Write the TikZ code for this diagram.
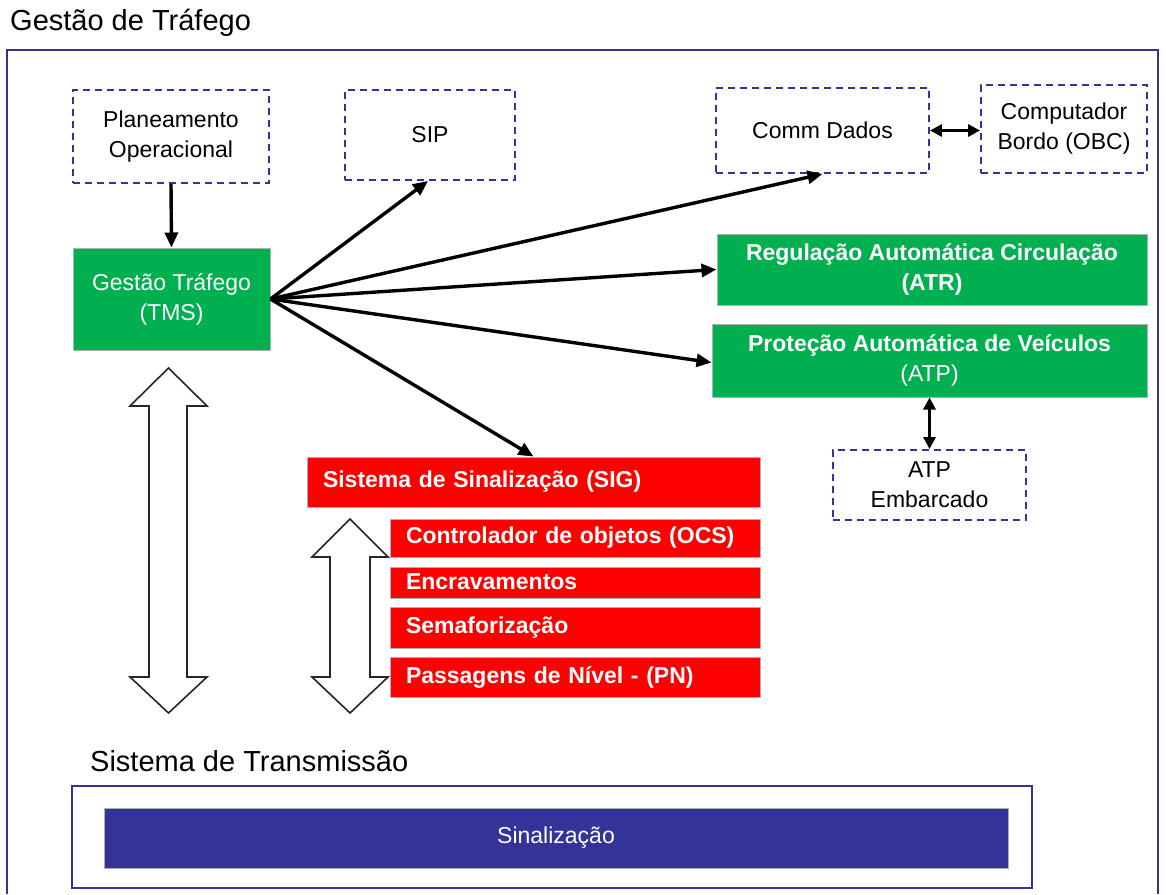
\documentclass[tikz,border=0pt]{standalone}
\usepackage{fontspec}
\setmainfont{Liberation Sans}
\usetikzlibrary{arrows.meta}
\definecolor{navy}{HTML}{333399}
\definecolor{boxgreen}{HTML}{00B050}
\definecolor{boxred}{HTML}{FF0000}
\definecolor{edgegray}{HTML}{A8B4B4}
\tikzset{
  every node/.style={font=\fontsize{23}{30}\selectfont, inner sep=0pt},
  dashbox/.style={draw=navy, line width=1.9pt, dash pattern=on 7pt off 5pt, fill=white, align=center},
  greenbox/.style={fill=boxgreen, draw=edgegray, line width=1pt, text=white, align=center},
  redbox/.style={fill=boxred, draw=edgegray, line width=1pt, text=white,
    font=\fontsize{23}{30}\selectfont\bfseries, align=left, inner xsep=16pt},
  bluebox/.style={fill=navy, draw=edgegray, line width=1pt, text=white, align=center},
  link/.style={line width=3.4pt, -{Triangle[length=15pt,width=13pt]}},
  duallink/.style={line width=3.4pt, {Triangle[length=12pt,width=12pt]}-{Triangle[length=12pt,width=12pt]}},
  blockarrow/.style={draw=black!85, line width=1.6pt, fill=white, line join=miter},
  heading/.style={font=\fontsize{29}{34}\selectfont, anchor=base west},
  frame/.style={draw=navy, line width=2pt},
}
\begin{document}
\begin{tikzpicture}[x=1pt, y=-1pt]
\useasboundingbox (0,0) rectangle (1166,894);

% outer frame and its title
\node[heading] (title) at (10,30) {Gestão de Tráfego};
\draw[frame] (7,894) -- (7,50) -- (1158,50) -- (1158,894);

% external (dashed) systems
\node[dashbox, minimum width=196pt, minimum height=93pt] (plan) at (171,136.5) {Planeamento\\Operacional};
\node[dashbox, minimum width=170pt, minimum height=90pt] (sip) at (430,135) {SIP};
\node[dashbox, minimum width=213pt, minimum height=85pt] (comm) at (822.5,130.5) {Comm Dados};
\node[dashbox, minimum width=166pt, minimum height=88pt] (obc) at (1064,129) {Computador\\Bordo (OBC)};
\node[dashbox, minimum width=193pt, minimum height=70pt] (emb) at (929.5,485) {ATP\\Embarcado};

% green subsystems
\node[greenbox, minimum width=197pt, minimum height=102pt] (tms) at (171.5,299) {Gestão Tráfego\\(TMS)};
\node[greenbox, minimum width=430pt, minimum height=71pt] (atr) at (932,269.5)
  {\textbf{Regulação Automática Circulação}\\\textbf{(ATR)}};
\node[greenbox, minimum width=435pt, minimum height=73pt] (atp) at (929.5,360.5)
  {\textbf{Proteção Automática de Veículos}\\(ATP)};

% signalling system
\node[redbox, text width=421pt, minimum height=50pt] (sig) at (533.5,482) {Sistema de Sinalização (SIG)};
\node[redbox, text width=338pt, minimum height=38pt] (ocs) at (575,538) {Controlador de objetos (OCS)};
\node[redbox, text width=338pt, minimum height=31pt] (enc) at (575,582.5) {\raisebox{2pt}{Encravamentos}};
\node[redbox, text width=338pt, minimum height=41pt] (sem) at (575,627.5) {Semaforização};
\node[redbox, text width=338pt, minimum height=40pt] (pn) at (575,677) {Passagens de Nível - (PN)};

% connectors
\draw[link] (plan.south) -- (tms.north);
\draw[link] (tms.east) -- ([xshift=-2pt]sip.south);
\draw[link] (tms.east) -- (comm.south);
\draw[link] (tms.east) -- (atr.west);
\draw[link] (tms.east) -- ([yshift=-2pt]atp.west);
\draw[link] (tms.east) -- (sig.north);
\draw[duallink] (comm.east) -- (comm.east -| obc.west);
\draw[duallink] (atp.south) -- (emb.north);

% block double arrows
\draw[blockarrow] (168.5,368) -- (207,406) -- (187,406) -- (187,677) -- (207,677) -- (168.5,713)
  -- (130,677) -- (149,677) -- (149,406) -- (130,406) -- cycle;
\draw[blockarrow] (350,519) -- (388,557) -- (370,557) -- (370,677) -- (388,677) -- (350,713)
  -- (312,677) -- (330,677) -- (330,557) -- (312,557) -- cycle;

% transmission system
\node[heading] (trans) at (90,771) {Sistema de Transmissão};
\draw[frame] (72,786) rectangle (1032,888);
\node[bluebox, minimum width=904pt, minimum height=60pt] (sinal) at (556,838) {Sinalização};
\end{tikzpicture}
\end{document}
